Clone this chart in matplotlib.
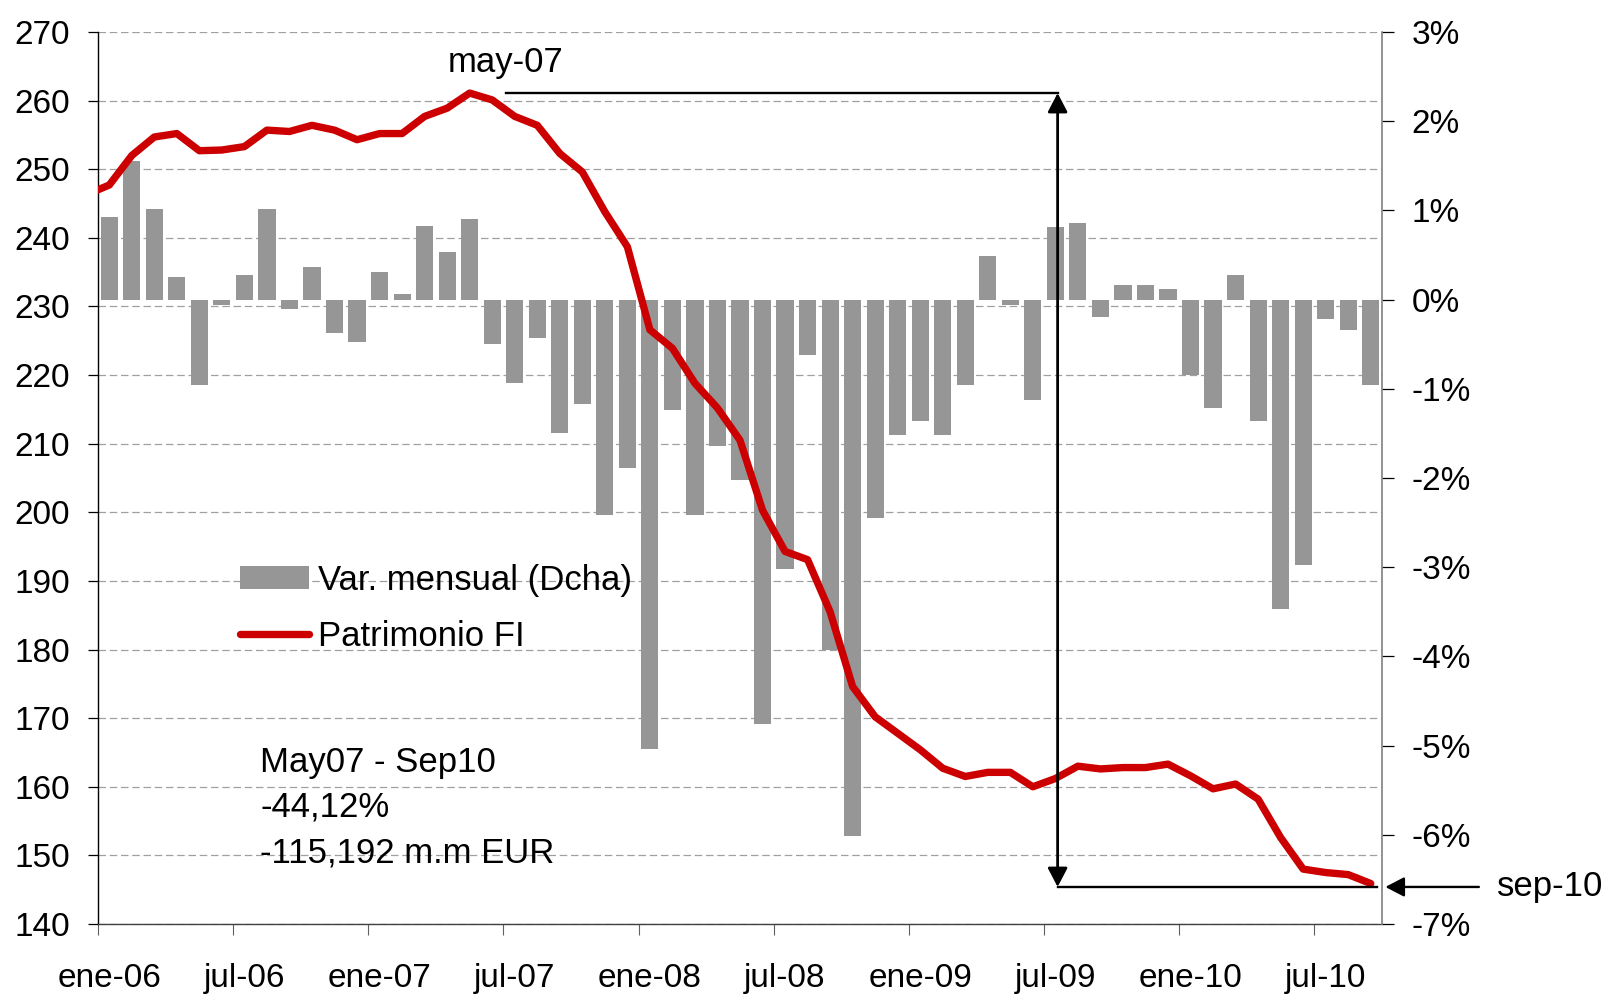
import matplotlib
matplotlib.use("Agg")
import matplotlib.pyplot as plt

plt.rcParams['font.family'] = ['Liberation Sans', 'DejaVu Sans']

# DATA
mes_abr = ['ene', 'feb', 'mar', 'abr', 'may', 'jun', 'jul', 'ago', 'sep', 'oct', 'nov', 'dic']
months = [f'{m}-{y:02d}' for y in range(6, 11) for m in mes_abr][:57]   # ene-06 .. sep-10

# monthly change (%), right axis
var_mensual = [0.93, 1.55, 1.02, 0.25, -0.96, -0.06, 0.28, 1.02, -0.10, 0.37, -0.38, -0.47,
               0.31, 0.06, 0.83, 0.53, 0.90, -0.50, -0.93, -0.43, -1.49, -1.17, -2.41, -1.89,
               -5.04, -1.24, -2.41, -1.64, -2.02, -4.76, -3.02, -0.62, -3.93, -6.01, -2.45, -1.52,
               -1.36, -1.52, -0.96, 0.49, -0.06, -1.12, 0.81, 0.86, -0.19, 0.16, 0.16, 0.12,
               -0.84, -1.21, 0.28, -1.36, -3.47, -2.97, -0.22, -0.34, -0.96]

# fund assets (bn EUR), left axis; first value is dic-05
patrimonio_prev = 246.3
patrimonio = [247.7, 252.0, 254.7, 255.2, 252.7, 252.8, 253.3, 255.7, 255.5, 256.4, 255.7, 254.3,
              255.2, 255.2, 257.7, 258.9, 261.1, 260.1, 257.7, 256.4, 252.3, 249.6, 243.8, 238.7,
              226.6, 223.9, 218.8, 215.2, 210.5, 200.3, 194.3, 193.1, 185.5, 174.6, 170.2, 167.8,
              165.4, 162.7, 161.5, 162.1, 162.1, 160.0, 161.2, 163.0, 162.6, 162.8, 162.8, 163.3,
              161.6, 159.7, 160.4, 158.2, 152.6, 148.0, 147.5, 147.2, 145.9]

xtick_labels = ['ene-06', 'jul-06', 'ene-07', 'jul-07', 'ene-08', 'jul-08',
                'ene-09', 'jul-09', 'ene-10', 'jul-10']
left_ticks = list(range(140, 271, 10))
right_ticks = list(range(-7, 4))

n = len(months)
x_cat = [i + 0.5 for i in range(n)]

FS = 24

fig = plt.figure(figsize=(16.17, 10.01), dpi=100)
rect = [98 / 1617, 1 - 924 / 1001, (1382 - 98) / 1617, (924 - 32) / 1001]

# base axis: left scale + grid
ax = fig.add_axes(rect)
ax.set_xlim(0, n)
ax.set_ylim(140, 270)
ax.set_yticks(left_ticks)
ax.set_yticklabels([str(v) for v in left_ticks])
ax.yaxis.grid(True, color='#a0a0a0', linestyle=(0, (6, 3)), linewidth=0.9)
ax.set_axisbelow(True)
for s in ['top', 'right']:
    ax.spines[s].set_visible(False)
ax.spines['left'].set_linewidth(1.0)
ax.spines['bottom'].set_linewidth(1.0)
ax.spines['bottom'].set_color('#404040')

# x ticks at every 6 months boundaries, labels centred on the month
tick_idx = [months.index(l) for l in xtick_labels]
ax.set_xticks(tick_idx)
ax.set_xticklabels([''] * len(tick_idx))
ax.set_xticks([i + 0.5 for i in tick_idx], minor=True)
ax.set_xticklabels(xtick_labels, minor=True)
ax.tick_params(axis='x', which='major', direction='out', length=8, width=0.8, color='#606060')
ax.tick_params(axis='x', which='minor', length=0, pad=28, labelsize=FS)
ax.tick_params(axis='y', direction='out', length=7, width=0.9, pad=13, labelsize=FS)

# bars on right scale
ax_bar = ax.twinx()
ax_bar.set_ylim(-7, 3)
ax_bar.set_yticks(right_ticks)
ax_bar.set_yticklabels([f'{v}%' for v in right_ticks])
ax_bar.tick_params(axis='y', direction='out', length=8.4, width=0.9, pad=13, labelsize=FS)
for s in ['top', 'left', 'bottom']:
    ax_bar.spines[s].set_visible(False)
ax_bar.spines['right'].set_color('#808080')
ax_bar.spines['right'].set_linewidth(1.2)
bars = ax_bar.bar(x_cat, var_mensual, width=0.76, color='#969696', zorder=2)

# line on top
ax_line = ax.twinx()
ax_line.set_ylim(140, 270)
ax_line.set_yticks([])
for s in ax_line.spines.values():
    s.set_visible(False)
line, = ax_line.plot([-0.5] + x_cat, [patrimonio_prev] + patrimonio, color='#cc0000', lw=5.3,
                     solid_joinstyle='round', solid_capstyle='round')

ax.set_zorder(0)
ax_bar.set_zorder(1)
ax_line.set_zorder(2)

# annotations
peak = max(patrimonio)
last = patrimonio[-1]
x_start = 18.1
x_arrow = 42.6
ax_line.plot([x_start, x_arrow], [peak, peak], color='black', lw=1.7)
ax_line.plot([x_arrow, n - 0.2], [last - 0.5, last - 0.5], color='black', lw=1.7)
ax_line.annotate('', xy=(x_arrow, peak), xytext=(x_arrow, last - 0.5),
                 arrowprops=dict(arrowstyle='<|-|>,head_length=1.15,head_width=0.6',
                                 mutation_scale=10, color='black', lw=2.0,
                                 shrinkA=0, shrinkB=0))
ax_line.annotate('', xy=(n + 0.15, last - 0.5), xytext=(61.3, last - 0.5),
                 arrowprops=dict(arrowstyle='-|>,head_length=1.15,head_width=0.6',
                                 mutation_scale=10, color='black', lw=1.7,
                                 shrinkA=0, shrinkB=0),
                 annotation_clip=False)
ax_line.text(x_start, 265.6, 'may-07', fontsize=25, ha='center', va='center')
ax_line.text(62.1, last - 0.5, 'sep-10', fontsize=25, ha='left', va='center', clip_on=False)
ax_line.text(7.2, 157.0, 'May07 - Sep10\n-44,12%\n-115,192 m.m EUR', fontsize=25,
             ha='left', va='center', linespacing=1.47)

ax_line.legend([bars, line], ['Var. mensual (Dcha)', 'Patrimonio FI'],
               loc='upper left', bbox_to_anchor=(240 / 1617, 1 - 564 / 1001),
               bbox_transform=fig.transFigure, frameon=False, fontsize=25,
               handlelength=2.0, handleheight=0.65, handletextpad=0.25,
               labelspacing=0.66, borderpad=0, borderaxespad=0)

fig.savefig('out.png', dpi=100, facecolor='white')
